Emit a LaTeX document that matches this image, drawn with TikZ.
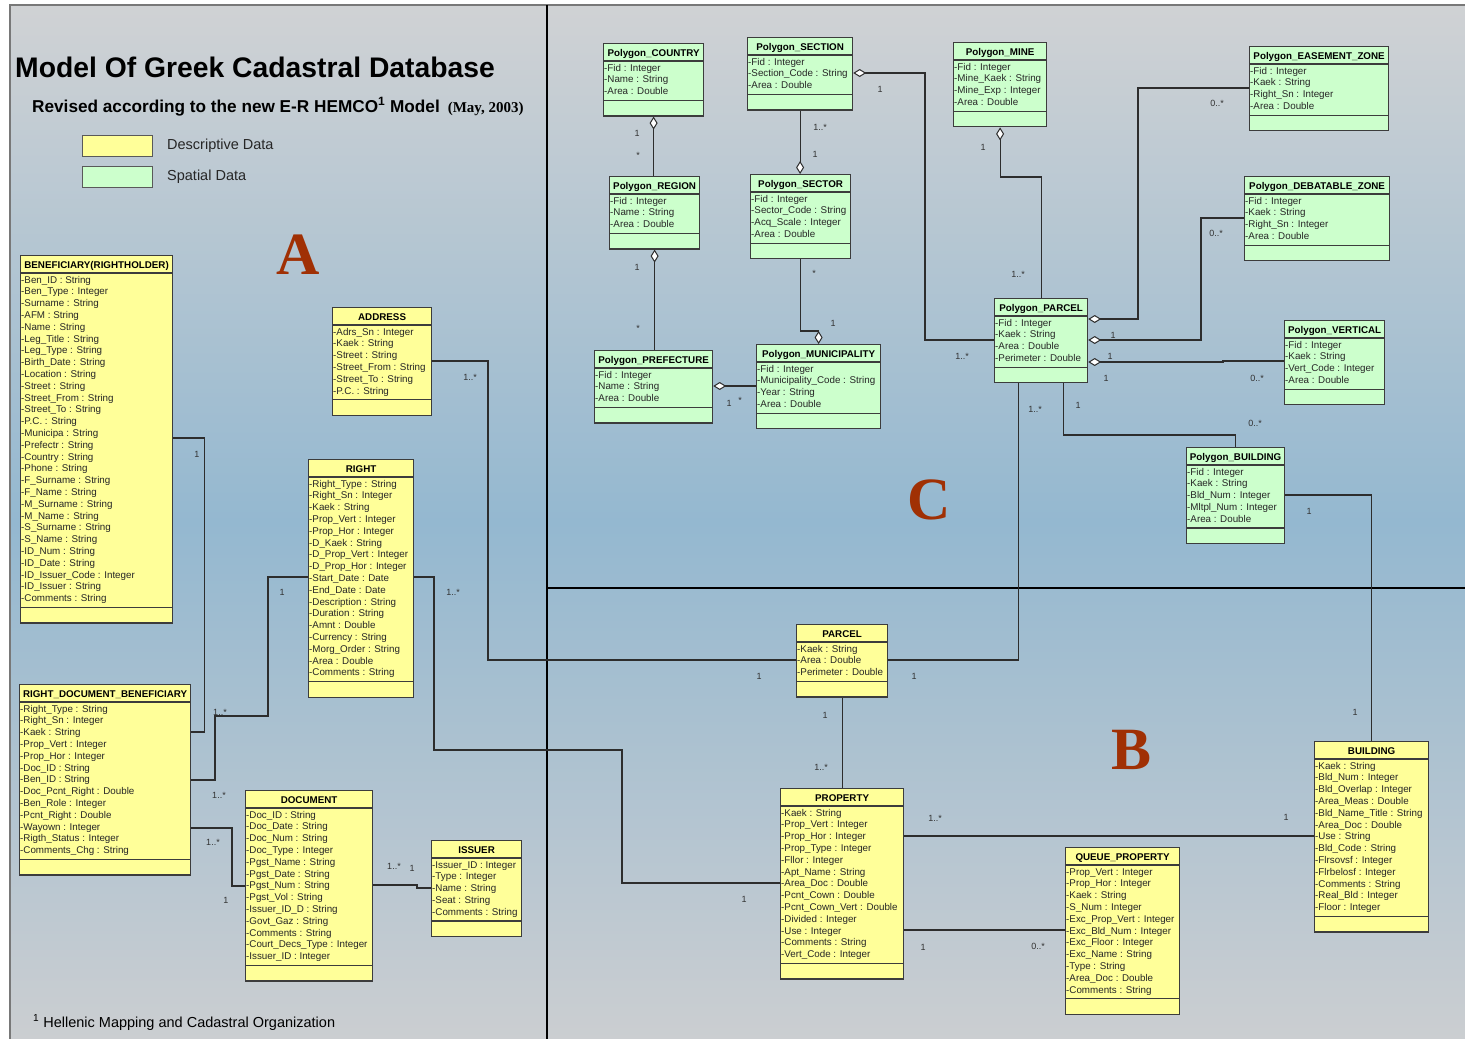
\documentclass[tikz,border=0pt]{standalone}
\usepackage{fontspec}
\setmainfont{Liberation Sans}
\newfontfamily\serifbold{Liberation Serif}
\usetikzlibrary{arrows.meta}

\definecolor{bgtop}{RGB}{208,210,212}
\definecolor{bgmid}{RGB}{148,184,208}
\definecolor{bgbot}{RGB}{203,206,209}
\definecolor{descfill}{RGB}{255,255,153}
\definecolor{spatfill}{RGB}{204,255,204}
\definecolor{boxline}{RGB}{60,60,60}
\definecolor{connline}{RGB}{45,45,45}
\definecolor{lettercol}{RGB}{160,48,4}
\definecolor{labelcol}{RGB}{50,50,50}
\definecolor{framecol}{RGB}{120,120,120}

\tikzset{
  descbox/.style={draw=boxline, line width=1.2pt, fill=descfill, inner sep=0pt},
  spatbox/.style={draw=boxline, line width=1.2pt, fill=spatfill, inner sep=0pt},
  sepline/.style={draw=boxline, line width=1.2pt},
  clstitle/.style={font=\bfseries\fontsize{9.8}{11.8}\selectfont, inner sep=0pt, anchor=base},
  clsattr/.style={font=\fontsize{9.8}{11.8}\selectfont, align=left, inner sep=0pt, anchor=north west, text=black!85},
  conn/.style={draw=connline, line width=1.1pt},
  aggfrom/.style={{Diamond[fill=white,length=13pt,width=8pt,line width=1pt]}-},
  aggto/.style={-{Diamond[fill=white,length=13pt,width=8pt,line width=1pt]}},
  mult/.style={font=\fontsize{9}{10}\selectfont, text=labelcol, inner sep=0pt},
  bigletter/.style={font=\serifbold\bfseries\fontsize{60}{60}\selectfont, text=lettercol, inner sep=0pt},
  legendbox/.style={draw=black!65, line width=1pt, minimum width=70pt, minimum height=21pt, inner sep=0pt, anchor=north west},
  legendtext/.style={font=\fontsize{14.5}{16}\selectfont, text=black!85, inner sep=0pt, anchor=west},
}

% #1 name, #2 fill style, #3 left, #4 top, #5 width, #6 number of attributes, #7 title, #8 attributes
\newcommand\umlclass[8]{%
  \pgfmathsetmacro\clsattrh{18+#6*11.8+4}%
  \pgfmathsetmacro\clstotal{\clsattrh+15}%
  \node[#2, minimum width=#5pt, minimum height=\clstotal pt, anchor=north west] (#1) at (#3,#4) {};
  \draw[sepline] ([yshift=-18pt]#1.north west) -- ([yshift=-18pt]#1.north east);
  \draw[sepline] ([yshift=-\clsattrh pt]#1.north west) -- ([yshift=-\clsattrh pt]#1.north east);
  \node[clstitle] (#1-title) at ([yshift=-13pt]#1.north) {#7};
  \node[clsattr] (#1-attrs) at ([xshift=1pt,yshift=-19pt]#1.north west) {\rule{0pt}{8.8pt}#8};
}

\begin{document}
\begin{tikzpicture}[x=1pt,y=-1pt]
\useasboundingbox (0,0) rectangle (1465,1039);
\fill[white] (0,0) rectangle (1465,1039);
\shade[top color=bgtop, bottom color=bgbot, middle color=bgmid] (10,5) rectangle (1465,1039);
\draw[framecol, line width=1.5pt] (10,1039) -- (10,5) -- (1465,5);

% panel dividers
\draw[black, line width=1.6pt] (547,5) -- (547,1039);
\draw[black, line width=1.6pt] (547,588) -- (1465,588);

% title block
\node[font=\bfseries\fontsize{28.3}{30}\selectfont, inner sep=0pt, anchor=west] (title) at (15,67) {Model Of Greek Cadastral Database};
\node[font=\bfseries\fontsize{17.2}{18}\selectfont, inner sep=0pt, anchor=base west] (subtitle) at (32,112)
  {Revised according to the new E-R HEMCO\textsuperscript{1} Model\hspace{8pt}{\serifbold\fontsize{15}{15}\selectfont(May, 2003)}};
\node[legendbox, fill=descfill] (legdesc) at (82,135) {};
\node[legendbox, fill=spatfill] (legspat) at (82,166) {};
\node[legendtext] (legdesc-text) at (167,146) {Descriptive Data};
\node[legendtext] (legspat-text) at (167,177) {Spatial Data};
\node[font=\fontsize{14.5}{16}\selectfont, inner sep=0pt, anchor=base west] (footnote) at (33,1027) {\textsuperscript{1} Hellenic Mapping and Cadastral Organization};

% section letters
\node[bigletter] (letterA) at (298,255) {A};
\node[bigletter] (letterC) at (929,500) {C};
\node[bigletter] (letterB) at (1131,750) {B};

% classes: descriptive data
\umlclass{ben}{descbox}{20}{255}{152}{28}{BENEFICIARY(RIGHTHOLDER)}
 {-Ben\_ID : String\\-Ben\_Type : Integer\\-Surname : String\\-AFM : String\\-Name : String\\-Leg\_Title : String\\-Leg\_Type : String\\-Birth\_Date : String\\-Location : String\\-Street : String\\-Street\_From : String\\-Street\_To : String\\-P.C. : String\\-Municipa : String\\-Prefectr : String\\-Country : String\\-Phone : String\\-F\_Surname : String\\-F\_Name : String\\-M\_Surname : String\\-M\_Name : String\\-S\_Surname : String\\-S\_Name : String\\-ID\_Num : String\\-ID\_Date : String\\-ID\_Issuer\_Code : Integer\\-ID\_Issuer : String\\-Comments : String}
\umlclass{rdb}{descbox}{19}{684}{171}{13}{RIGHT\_DOCUMENT\_BENEFICIARY}
 {-Right\_Type : String\\-Right\_Sn : Integer\\-Kaek : String\\-Prop\_Vert : Integer\\-Prop\_Hor : Integer\\-Doc\_ID : String\\-Ben\_ID : String\\-Doc\_Pcnt\_Right : Double\\-Ben\_Role : Integer\\-Pcnt\_Right : Double\\-Wayown : Integer\\-Rigth\_Status : Integer\\-Comments\_Chg : String}
\umlclass{address}{descbox}{332}{307}{99}{6}{ADDRESS}
 {-Adrs\_Sn : Integer\\-Kaek : String\\-Street : String\\-Street\_From : String\\-Street\_To : String\\-P.C. : String}
\umlclass{rightcls}{descbox}{308}{459}{105}{17}{RIGHT}
 {-Right\_Type : String\\-Right\_Sn : Integer\\-Kaek : String\\-Prop\_Vert : Integer\\-Prop\_Hor : Integer\\-D\_Kaek : String\\-D\_Prop\_Vert : Integer\\-D\_Prop\_Hor : Integer\\-Start\_Date : Date\\-End\_Date : Date\\-Description : String\\-Duration : String\\-Amnt : Double\\-Currency : String\\-Morg\_Order : String\\-Area : Double\\-Comments : String}
\umlclass{doccls}{descbox}{245}{790}{127}{13}{DOCUMENT}
 {-Doc\_ID : String\\-Doc\_Date : String\\-Doc\_Num : String\\-Doc\_Type : Integer\\-Pgst\_Name : String\\-Pgst\_Date : String\\-Pgst\_Num : String\\-Pgst\_Vol : String\\-Issuer\_ID\_D : String\\-Govt\_Gaz : String\\-Comments : String\\-Court\_Decs\_Type : Integer\\-Issuer\_ID : Integer}
\umlclass{issuer}{descbox}{431}{840}{90}{5}{ISSUER}
 {-Issuer\_ID : Integer\\-Type : Integer\\-Name : String\\-Seat : String\\-Comments : String}
\umlclass{parcel}{descbox}{796}{624}{91}{3}{PARCEL}
 {-Kaek : String\\-Area : Double\\-Perimeter : Double}
\umlclass{property}{descbox}{780}{788}{123}{13}{PROPERTY}
 {-Kaek : String\\-Prop\_Vert : Integer\\-Prop\_Hor : Integer\\-Prop\_Type : Integer\\-Fllor : Integer\\-Apt\_Name : String\\-Area\_Doc : Double\\-Pcnt\_Cown : Double\\-Pcnt\_Cown\_Vert : Double\\-Divided : Integer\\-Use : Integer\\-Comments : String\\-Vert\_Code : Integer}
\umlclass{queue}{descbox}{1065}{847}{114}{11}{QUEUE\_PROPERTY}
 {-Prop\_Vert : Integer\\-Prop\_Hor : Integer\\-Kaek : String\\-S\_Num : Integer\\-Exc\_Prop\_Vert : Integer\\-Exc\_Bld\_Num : Integer\\-Exc\_Floor : Integer\\-Exc\_Name : String\\-Type : String\\-Area\_Doc : Double\\-Comments : String}
\umlclass{building}{descbox}{1314}{741}{114}{13}{BUILDING}
 {-Kaek : String\\-Bld\_Num : Integer\\-Bld\_Overlap : Integer\\-Area\_Meas : Double\\-Bld\_Name\_Title : String\\-Area\_Doc : Double\\-Use : String\\-Bld\_Code : String\\-Flrsovsf : Integer\\-Flrbelosf : Integer\\-Comments : String\\-Real\_Bld : Integer\\-Floor : Integer}

% classes: spatial data
\umlclass{pcountry}{spatbox}{603}{43}{100}{3}{Polygon\_COUNTRY}
 {-Fid : Integer\\-Name : String\\-Area : Double}
\umlclass{psection}{spatbox}{747}{37}{105}{3}{Polygon\_SECTION}
 {-Fid : Integer\\-Section\_Code : String\\-Area : Double}
\umlclass{pmine}{spatbox}{953}{42}{93}{4}{Polygon\_MINE}
 {-Fid : Integer\\-Mine\_Kaek : String\\-Mine\_Exp : Integer\\-Area : Double}
\umlclass{pregion}{spatbox}{609}{176}{90}{3}{Polygon\_REGION}
 {-Fid : Integer\\-Name : String\\-Area : Double}
\umlclass{psector}{spatbox}{750}{174}{100}{4}{Polygon\_SECTOR}
 {-Fid : Integer\\-Sector\_Code : String\\-Acq\_Scale : Integer\\-Area : Double}
\umlclass{pease}{spatbox}{1249}{46}{139}{4}{Polygon\_EASEMENT\_ZONE}
 {-Fid : Integer\\-Kaek : String\\-Right\_Sn : Integer\\-Area : Double}
\umlclass{pdeb}{spatbox}{1244}{176}{145}{4}{Polygon\_DEBATABLE\_ZONE}
 {-Fid : Integer\\-Kaek : String\\-Right\_Sn : Integer\\-Area : Double}
\umlclass{ppref}{spatbox}{594}{350}{118}{3}{Polygon\_PREFECTURE}
 {-Fid : Integer\\-Name : String\\-Area : Double}
\umlclass{pmuni}{spatbox}{756}{344}{124}{4}{Polygon\_MUNICIPALITY}
 {-Fid : Integer\\-Municipality\_Code : String\\-Year : String\\-Area : Double}
\umlclass{pparcel}{spatbox}{994}{298}{93}{4}{Polygon\_PARCEL}
 {-Fid : Integer\\-Kaek : String\\-Area : Double\\-Perimeter : Double}
\umlclass{pvert}{spatbox}{1284}{320}{100}{4}{Polygon\_VERTICAL}
 {-Fid : Integer\\-Kaek : String\\-Vert\_Code : Integer\\-Area : Double}
\umlclass{pbld}{spatbox}{1186}{447}{98}{5}{Polygon\_BUILDING}
 {-Fid : Integer\\-Kaek : String\\-Bld\_Num : Integer\\-Mltpl\_Num : Integer\\-Area : Double}

% associations
\draw[conn] (ben.east |- 0,438) -- ++(31,0) |- (rdb.east |- 0,732);
\draw[conn] (rdb.east |- 0,780) -| (215,716) -| (268,577) -- (rightcls.west |- 0,577);
\draw[conn] (rdb.east |- 0,828) -| (232,886) -- (doccls.west |- 0,886);
\draw[conn] (doccls.east |- 0,885) -- (417,885) -- (417,888) -- (issuer.west |- 0,888);
\draw[conn] (rightcls.east |- 0,577) -| (434,750) -| (622,883) -- (property.west |- 0,883);
\draw[conn] (address.east |- 0,361) -| (488,660) -- (parcel.west |- 0,660);
\draw[conn] (parcel.east |- 0,660) -| ([xshift=-22.5pt]pparcel.south);
\draw[conn] (parcel.south) -- (parcel.south |- property.north);
\draw[conn] (property.east |- 0,836) -- (building.west |- 0,836);
\draw[conn] (property.east |- 0,930) -- (queue.west |- 0,930);
\draw[conn] (pbld.east |- 0,495) -| (building.north);
\draw[conn] ([xshift=22.5pt]pparcel.south) |- (pbld.north |- 0,435) -- (pbld.north);
\draw[conn,aggfrom] (pparcel.east |- 0,319) -| (1138,88) -- (pease.west |- 0,88);
\draw[conn,aggfrom] (pparcel.east |- 0,340) -| (1201,218) -- (pdeb.west |- 0,218);
\draw[conn,aggfrom] (pparcel.east |- 0,362) -- (1223,362) -- (1223,361) -- (pvert.west |- 0,361);
\draw[conn,aggfrom] (psection.east |- 0,73) -| (925,340) -- (pparcel.west |- 0,340);
\draw[conn,aggfrom] (pmine.south) |- (pparcel.north |- 0,177) -- (pparcel.north);
\draw[conn,aggfrom] (pcountry.south) -- (pcountry.south |- pregion.north);
\draw[conn,aggto] (psection.south) -- (psection.south |- psector.north);
\draw[conn,aggfrom] (pregion.south) -- (pregion.south |- ppref.north);
\draw[conn,aggto] (psector.south) |- (pmuni.north |- 0,331) -- (pmuni.north);
\draw[conn,aggfrom] (ppref.east |- 0,386) -- (pmuni.west |- 0,386);

% multiplicities
\node[mult] (m1) at (197,454) {1};
\node[mult] (m2) at (220,712) {1..*};
\node[mult] (m3) at (282,592) {1};
\node[mult] (m4) at (219,795) {1..*};
\node[mult] (m5) at (213,842) {1..*};
\node[mult] (m6) at (226,900) {1};
\node[mult] (m7) at (394,866) {1..*};
\node[mult] (m8) at (412,868) {1};
\node[mult] (m9) at (453,592) {1..*};
\node[mult] (m10) at (744,899) {1};
\node[mult] (m11) at (470,377) {1..*};
\node[mult] (m12) at (759,676) {1};
\node[mult] (m13) at (914,676) {1};
\node[mult] (m14) at (1035,409) {1..*};
\node[mult] (m15) at (825,715) {1};
\node[mult] (m16) at (821,767) {1..*};
\node[mult] (m17) at (935,818) {1..*};
\node[mult] (m18) at (1286,817) {1};
\node[mult] (m19) at (923,947) {1};
\node[mult] (m20) at (1038,946) {0..*};
\node[mult] (m21) at (1309,511) {1};
\node[mult] (m22) at (1355,712) {1};
\node[mult] (m23) at (1078,405) {1};
\node[mult] (m24) at (1255,423) {0..*};
\node[mult] (m25) at (1217,103) {0..*};
\node[mult] (m26) at (1113,335) {1};
\node[mult] (m27) at (1216,233) {0..*};
\node[mult] (m28) at (1110,356) {1};
\node[mult] (m29) at (1106,378) {1};
\node[mult] (m30) at (1257,378) {0..*};
\node[mult] (m31) at (880,89) {1};
\node[mult] (m32) at (962,356) {1..*};
\node[mult] (m33) at (983,147) {1};
\node[mult] (m34) at (1018,274) {1..*};
\node[mult] (m35) at (637,133) {1};
\node[mult] (m36) at (638,155) {*};
\node[mult] (m37) at (820,127) {1..*};
\node[mult] (m38) at (815,154) {1};
\node[mult] (m39) at (637,267) {1};
\node[mult] (m40) at (638,328) {*};
\node[mult] (m41) at (814,273) {*};
\node[mult] (m42) at (833,323) {1};
\node[mult] (m43) at (729,403) {1};
\node[mult] (m44) at (740,400) {*};
\end{tikzpicture}
\end{document}
